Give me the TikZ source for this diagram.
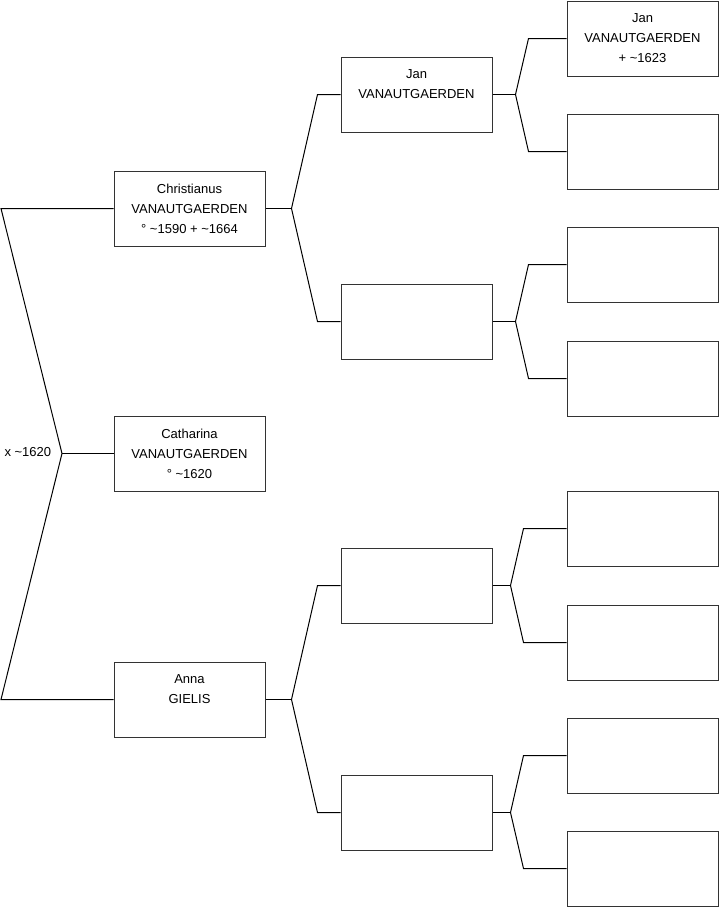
\documentclass[tikz,border=0pt]{standalone}
\usepackage{fontspec}
\setmainfont{Liberation Sans}
\tikzset{
  person/.style={draw=black!80, line width=1pt, fill=white,
                 minimum width=151pt, minimum height=75pt,
                 inner sep=0pt, align=center,
                 font=\fontsize{13}{20}\selectfont},
  link/.style={black, line width=1pt},
  note/.style={font=\fontsize{13}{16}\selectfont},
}

\begin{document}
\begin{tikzpicture}[x=1pt,y=-1pt]
  \path[use as bounding box] (0,0) rectangle (719,908);

  % generation 1
  \node[person] (chris) at (189.5,208.5)
    {Christianus\\VANAUTGAERDEN\\° \textasciitilde1590 + \textasciitilde1664};
  \node[person] (cath) at (189.5,453.5)
    {Catharina\\VANAUTGAERDEN\\° \textasciitilde1620};
  \node[person] (anna) at (189.5,699.5)
    {Anna\\GIELIS\\\mbox{}};

  % generation 2
  \node[person] (jan)  at (416.5,94.5)  {Jan\\VANAUTGAERDEN\\\mbox{}};
  \node[person] (gp2)  at (416.5,321.5) {};
  \node[person] (gp3)  at (416.5,585.5) {};
  \node[person] (gp4)  at (416.5,812.5) {};

  % generation 3
  \node[person] (janf) at (642.5,38.5)  {Jan\\VANAUTGAERDEN\\+ \textasciitilde1623};
  \node[person] (ggp2) at (642.5,151.5) {};
  \node[person] (ggp3) at (642.5,264.5) {};
  \node[person] (ggp4) at (642.5,378.5) {};
  \node[person] (ggp5) at (642.5,528.5) {};
  \node[person] (ggp6) at (642.5,642.5) {};
  \node[person] (ggp7) at (642.5,755.5) {};
  \node[person] (ggp8) at (642.5,868.5) {};

  % marriage
  \coordinate (husb) at (1,208.5);
  \coordinate (wed)  at (62,453.5);
  \coordinate (wife) at (1,699.5);
  \draw[link] (chris.west) -- (husb) -- (wed) -- (wife) -- (anna.west);
  \draw[link] (wed) -- (cath.west);
  \node[note, anchor=west] (wedlab) at (1,452) {x \textasciitilde1620};

  % parents
  \draw[link] (chris.east) -- ++(26,0) coordinate (fchris);
  \draw[link] (jan.west) -- ++(-23,0) -- (fchris) -- ([xshift=-23pt]gp2.west) -- (gp2.west);
  \draw[link] (anna.east) -- ++(26,0) coordinate (fanna);
  \draw[link] (gp3.west) -- ++(-23,0) -- (fanna) -- ([xshift=-23pt]gp4.west) -- (gp4.west);

  % grandparents
  \draw[link] (jan.east) -- ++(23,0) coordinate (fjan);
  \draw[link] (janf.west) -- ++(-38,0) -- (fjan) -- ([xshift=-38pt]ggp2.west) -- (ggp2.west);
  \draw[link] (gp2.east) -- ++(23,0) coordinate (fgp2);
  \draw[link] (ggp3.west) -- ++(-38,0) -- (fgp2) -- ([xshift=-38pt]ggp4.west) -- (ggp4.west);
  \draw[link] (gp3.east) -- ++(18,0) coordinate (fgp3);
  \draw[link] (ggp5.west) -- ++(-43,0) -- (fgp3) -- ([xshift=-43pt]ggp6.west) -- (ggp6.west);
  \draw[link] (gp4.east) -- ++(18,0) coordinate (fgp4);
  \draw[link] (ggp7.west) -- ++(-43,0) -- (fgp4) -- ([xshift=-43pt]ggp8.west) -- (ggp8.west);
\end{tikzpicture}
\end{document}
